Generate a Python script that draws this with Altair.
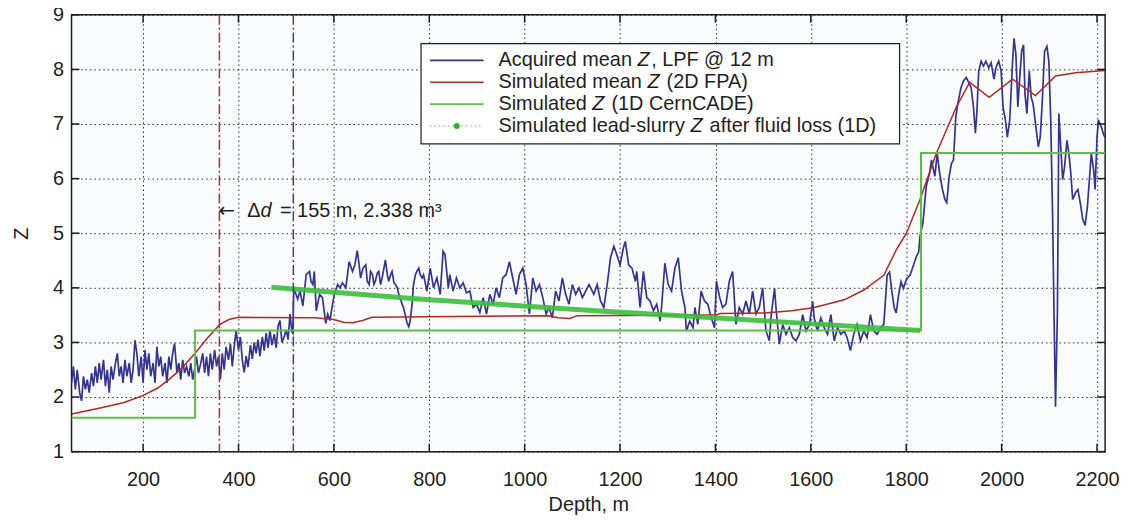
import altair as alt
import pandas as pd

# ---------------- data ----------------
# Acquired mean Z, LPF @ 12 m  -- (depth m, Z)
acq_seg_a = [(50, 2.26), (54, 2.56), (58, 2.14), (62, 2.50), (67, 2.08), (71, 1.93), (75, 2.38), (79, 2.14),
             (83, 2.32), (87, 2.08), (92, 2.44), (96, 2.20), (100, 2.56), (104, 2.26), (108, 2.62), (112, 2.32),
             (117, 2.68), (121, 2.20), (125, 2.50), (129, 2.08), (133, 2.56), (137, 2.32), (142, 2.62), (146, 2.80),
             (150, 2.38), (154, 2.56), (158, 2.26), (162, 2.68), (166, 2.38), (171, 2.62), (175, 2.26), (179, 2.50),
             (183, 3.04), (187, 2.80), (191, 2.38), (196, 2.74), (200, 2.26), (204, 2.86), (208, 2.50), (212, 2.80),
             (216, 2.38), (221, 2.62), (225, 2.26), (229, 2.92), (233, 2.56), (237, 2.74), (241, 2.38), (246, 2.62),
             (250, 2.26), (254, 2.74), (258, 2.50), (262, 2.80), (266, 2.98), (271, 2.44), (275, 2.62), (279, 2.32),
             (283, 2.68), (287, 2.44), (291, 2.56), (296, 2.38), (300, 2.62), (304, 2.32), (308, 2.50), (312, 2.74),
             (316, 2.44), (321, 2.62), (325, 2.80), (329, 2.44), (333, 2.74), (337, 2.38), (341, 2.80), (345, 2.50),
             (350, 2.86), (354, 2.56), (358, 2.74), (362, 2.32), (366, 2.80), (370, 2.50), (374, 2.92), (379, 2.68),
             (383, 2.98), (387, 2.56), (391, 2.92), (395, 3.22), (400, 2.86), (404, 3.10), (408, 2.68)]
acq_seg_b = [(412, 2.45), (416, 2.75), (420, 2.55), (425, 2.95), (429, 2.70), (433, 3.00), (437, 2.80), (441, 3.05),
             (445, 2.75), (450, 3.10), (454, 2.85), (458, 3.17), (462, 2.90), (466, 3.23), (470, 2.95), (475, 3.15),
             (479, 2.90), (483, 3.30), (487, 3.40), (491, 3.00), (496, 3.11), (500, 3.23), (504, 3.05), (508, 3.52),
             (512, 3.20), (514, 3.17), (516, 4.00), (524, 3.79), (529, 3.94), (535, 3.67), (542, 4.24), (549, 4.30),
             (552, 4.12), (556, 4.06), (559, 4.30), (563, 3.58), (570, 3.88), (576, 3.82), (583, 3.35), (587, 3.52),
             (592, 3.40), (596, 3.64), (601, 3.88), (608, 4.06), (613, 4.00), (618, 4.09), (625, 4.00), (632, 4.48),
             (639, 4.30), (644, 4.42), (649, 4.68), (653, 4.42), (656, 4.18), (661, 4.36), (667, 4.42), (670, 4.12),
             (674, 4.06), (677, 4.30), (681, 4.24), (684, 4.06), (687, 4.12), (691, 4.27), (694, 4.30), (698, 4.06),
             (701, 4.18), (705, 4.36), (708, 4.51), (712, 4.24), (715, 4.12), (719, 4.24), (722, 4.30), (726, 4.09),
             (729, 4.06), (733, 4.00), (736, 3.88), (740, 3.79), (743, 3.70), (746, 3.64), (750, 3.49), (753, 3.37),
             (757, 3.29), (760, 3.40), (764, 3.70), (767, 4.06), (771, 4.24), (774, 4.30), (778, 4.36), (781, 4.24),
             (785, 4.18)]
acq_seg_c = [(788, 4.24), (795, 3.94), (802, 4.36), (809, 4.00), (816, 4.18), (823, 3.88), (829, 4.67), (833, 4.61),
             (840, 4.00), (843, 4.24), (850, 3.94), (857, 4.18), (864, 4.00), (871, 4.09), (878, 3.91), (885, 3.94),
             (892, 3.64), (899, 3.70), (906, 3.55), (913, 3.82), (920, 3.52), (927, 3.88), (934, 3.70), (940, 4.00),
             (947, 3.82), (954, 4.18), (961, 4.24), (968, 4.48), (975, 4.18), (982, 3.88), (989, 4.24), (996, 4.36),
             (1003, 4.06), (1010, 3.52), (1017, 4.18), (1024, 3.94), (1031, 4.06), (1038, 3.82), (1045, 3.52),
             (1051, 3.64), (1058, 3.45), (1065, 3.94), (1072, 3.76), (1079, 4.18), (1086, 3.88), (1093, 3.70),
             (1100, 4.06), (1107, 3.88), (1114, 4.00), (1121, 3.82), (1128, 3.94), (1135, 4.06)]
acq_seg_d = [(1145, 3.88), (1152, 4.06), (1159, 3.76), (1166, 3.64), (1173, 4.06), (1180, 4.55), (1187, 4.76),
             (1193, 4.61), (1200, 4.42), (1207, 4.73), (1211, 4.85), (1218, 4.42), (1225, 4.36), (1232, 4.12),
             (1235, 4.30), (1242, 3.64), (1249, 4.30), (1256, 3.82), (1263, 3.76), (1270, 3.58), (1277, 3.70),
             (1284, 3.39), (1287, 3.64), (1294, 4.45), (1301, 4.06), (1308, 3.94), (1315, 4.36), (1322, 4.55),
             (1329, 3.94), (1336, 3.64), (1339, 3.21), (1346, 3.39), (1353, 3.27), (1357, 3.64), (1363, 3.33),
             (1370, 3.94), (1377, 3.76), (1384, 3.70), (1391, 3.46), (1398, 3.27), (1402, 4.12), (1409, 3.82),
             (1415, 3.64), (1422, 3.70), (1429, 4.12), (1436, 4.30), (1443, 3.33), (1450, 3.64), (1457, 3.52),
             (1464, 3.76), (1471, 3.52), (1478, 3.94), (1485, 3.52), (1492, 3.64), (1499, 4.00), (1506, 3.21),
             (1513, 3.03)]
acq_seg_e = [(1517, 3.51), (1524, 3.99), (1527, 3.63), (1534, 2.97), (1541, 3.33), (1548, 3.15), (1555, 3.27),
             (1562, 3.09), (1569, 3.03), (1576, 3.15), (1583, 3.51), (1590, 3.21), (1597, 3.33), (1604, 3.75),
             (1607, 3.45), (1614, 3.21), (1621, 3.45), (1628, 3.27), (1635, 3.15), (1642, 3.51), (1649, 3.03),
             (1656, 3.27), (1663, 3.15), (1670, 3.21), (1676, 3.09), (1683, 2.85), (1690, 3.15), (1697, 3.33),
             (1704, 3.03), (1711, 3.21), (1718, 3.09), (1725, 3.51), (1732, 3.21), (1739, 3.15), (1746, 3.27),
             (1753, 3.33), (1760, 4.23), (1765, 4.29), (1770, 3.93), (1775, 3.63), (1779, 3.54), (1784, 3.87),
             (1789, 4.11), (1794, 3.99), (1801, 4.17), (1808, 4.23), (1815, 4.41), (1822, 4.59), (1826, 4.65),
             (1829, 4.95), (1835, 5.19)]
acq_seg_f = [(1842, 5.86), (1849, 6.10), (1853, 6.34), (1860, 6.04), (1865, 6.46), (1870, 6.10), (1876, 5.80),
             (1881, 5.62), (1885, 5.56), (1890, 6.04), (1895, 6.28), (1899, 6.34), (1904, 7.13), (1908, 7.37),
             (1915, 7.67), (1920, 7.79), (1926, 7.85), (1931, 7.76), (1936, 7.67), (1941, 7.31), (1945, 6.83),
             (1948, 7.19), (1952, 7.97), (1957, 8.15), (1962, 8.06), (1967, 8.15), (1973, 8.03), (1978, 8.12),
             (1984, 7.82), (1988, 8.03), (1994, 8.15), (1999, 7.97), (2003, 7.31), (2008, 7.07), (2012, 6.76),
             (2017, 7.07), (2023, 8.15), (2026, 8.57), (2030, 8.27), (2034, 7.31), (2038, 7.85), (2042, 8.33),
             (2046, 8.45), (2049, 7.55), (2053, 7.19), (2058, 7.97), (2062, 7.49), (2066, 7.37), (2071, 7.01),
             (2077, 6.58), (2081, 6.76), (2085, 7.37), (2090, 8.33), (2095, 8.42), (2099, 8.15), (2103, 7.07),
             (2107, 5.26), (2110, 3.45), (2113, 1.82), (2117, 3.57), (2120, 7.19), (2124, 6.58), (2128, 5.98),
             (2132, 6.22), (2137, 6.70), (2141, 6.46), (2145, 6.10), (2149, 5.62), (2155, 5.74), (2160, 5.80),
             (2166, 5.50), (2170, 5.26), (2175, 5.14), (2180, 5.50), (2184, 5.98), (2188, 6.46), (2193, 6.16),
             (2196, 5.80), (2200, 6.76), (2203, 7.07), (2209, 6.95), (2214, 6.80), (2217, 6.75)]

# Simulated mean Z (2D FPA)
fpa_points = [(50, 1.69), (115, 1.81), (160, 1.90), (198, 2.02), (230, 2.16), (254, 2.32), (280, 2.52),
              (309, 2.80), (335, 3.08), (361, 3.33), (380, 3.42), (400, 3.46), (560, 3.45), (600, 3.42),
              (620, 3.37), (640, 3.36), (660, 3.40), (680, 3.46), (1050, 3.49), (1070, 3.45), (1095, 3.44),
              (1110, 3.49), (1400, 3.50), (1410, 3.53), (1503, 3.54), (1560, 3.58), (1607, 3.64), (1670, 3.78),
              (1711, 3.96), (1753, 4.23), (1780, 4.71), (1801, 5.01), (1829, 5.62), (1863, 6.46), (1905, 7.31),
              (1933, 7.76), (1974, 7.49), (2023, 7.82), (2071, 7.52), (2113, 7.88), (2155, 7.94), (2217, 7.98)]

# Simulated Z (1D CernCADE) -- step levels (value holds until next depth)
cern_points = [(50, 1.62), (309, 3.22), (1831, 6.47), (2217, 6.47)]

# Simulated lead-slurry Z after fluid loss (1D)
slurry_points = [(469, 4.01), (785, 3.79), (1149, 3.58), (1513, 3.39), (1829, 3.22)]

# vertical dash-dot markers (depth, m) : red, blue  -> delta d = 155 m
marker_red = 360
marker_blue = 515

x_ticks = [200, 400, 600, 800, 1000, 1200, 1400, 1600, 1800, 2000, 2200]
y_ticks = [1, 2, 3, 4, 5, 6, 7, 8, 9]

legend_rows = [("Acquired mean ", "Z", ", LPF @ 12 m"),
               ("Simulated mean ", "Z", " (2D FPA)"),
               ("Simulated ", "Z", " (1D CernCADE)"),
               ("Simulated lead-slurry ", "Z", " after fluid loss (1D)")]
annot_text = ("\u0394", "d", " = 155 m, 2.338 m\u00b3")
annot_z = 5.4

# ---------------- layout / style ----------------
W, H = 1041, 440
XMIN, XMAX = 50, 2217
YMIN, YMAX = 1, 9
FONT = "Liberation Sans"
FS = 20
INK = "#1e1e1e"
C_BLUE = "#34348f"
C_RED = "#b02a22"
C_GREEN = "#5cbf4a"
C_SLURRY = "#3cbf3c"

# Arial/Liberation Sans advance widths (1/1000 em) for placing text pieces
AW = {' ': 278, 'A': 667, 'c': 500, 'q': 556, 'u': 556, 'i': 222, 'r': 333, 'e': 556, 'd': 556, 'm': 833,
      'a': 556, 'n': 556, 'Z': 611, ',': 278, 'L': 556, 'P': 667, 'F': 611, '@': 1015, 'S': 667, 'l': 222,
      't': 278, '(': 333, ')': 333, 'D': 722, 'C': 722, 'E': 667, '-': 333, 's': 500, 'y': 500, 'f': 278,
      'o': 556, '\u0394': 668, '=': 584, '.': 278, '\u00b3': 333}


def tw(s):
    return sum(AW.get(ch, 556) for ch in s) * FS / 1000.0


def xpix(d):
    return (d - XMIN) / (XMAX - XMIN) * W


def ypix(z):
    return (YMAX - z) / (YMAX - YMIN) * H


def df_pts(points):
    return pd.DataFrame({"depth": [p[0] for p in points], "z": [p[1] for p in points]})


acq_all = acq_seg_a + acq_seg_b + acq_seg_c + acq_seg_d + acq_seg_e + acq_seg_f
df_acq = df_pts(acq_all)
df_fpa = df_pts(fpa_points)
df_cern = df_pts(cern_points)
df_slurry = df_pts(slurry_points)

xaxis = alt.Axis(values=x_ticks, grid=True, gridDash=[1.5, 3], gridColor="#2a2a2a", gridWidth=1,
                 ticks=False, domain=False, labelFont=FONT, labelFontSize=FS, labelColor=INK,
                 labelPadding=18, format="d", title="Depth, m", titleFont=FONT, titleFontSize=FS,
                 titleFontWeight="normal", titleColor=INK, titleX=W / 2, titleY=53,
                 titleAlign="center", titleBaseline="middle", labelFlush=False)
yaxis = alt.Axis(values=y_ticks, grid=True, gridDash=[1.5, 3], gridColor="#2a2a2a", gridWidth=1,
                 ticks=False, domain=False, labelFont=FONT, labelFontSize=FS, labelColor=INK,
                 labelPadding=8, format="d", title="Z", titleFont=FONT, titleFontSize=FS,
                 titleFontWeight="normal", titleColor=INK, titleX=-50, titleY=H / 2, titleAngle=270,
                 titleAlign="center", titleBaseline="middle", labelFlush=False)

xs = alt.Scale(domain=[XMIN, XMAX], nice=False, zero=False)
ys = alt.Scale(domain=[YMIN, YMAX], nice=False, zero=False)
X = alt.X("depth:Q", scale=xs, axis=xaxis)
Y = alt.Y("z:Q", scale=ys, axis=yaxis)

layers = []

acq = alt.Chart(df_acq).mark_line(color=C_BLUE, strokeWidth=1.7, clip=True).encode(x=X, y=Y)
fpa = alt.Chart(df_fpa).mark_line(color=C_RED, strokeWidth=1.5, clip=True).encode(x=X, y=Y)
cern = alt.Chart(df_cern).mark_line(color=C_GREEN, strokeWidth=2, interpolate="step-after",
                                    clip=True).encode(x=X, y=Y)
slurry = alt.Chart(df_slurry).mark_line(color=C_SLURRY, strokeWidth=5, opacity=0.9,
                                        clip=True).encode(x=X, y=Y)

df_mark = pd.DataFrame({"depth": [marker_red, marker_blue], "which": ["red", "blue"]})
vlines = alt.Chart(df_mark).mark_rule(strokeWidth=1.5, strokeDash=[10, 3, 2, 3]).encode(
    x=X,
    color=alt.Color("which:N", scale=alt.Scale(domain=["red", "blue"], range=["#a8322d", "#3c3c94"]),
                    legend=None))

layers += [acq, fpa, cern, slurry, vlines]

# inward tick marks on all four sides
df_xt = pd.DataFrame({"depth": x_ticks})
df_yt = pd.DataFrame({"z": y_ticks})
tk = dict(color=INK, strokeWidth=1.5)
layers.append(alt.Chart(df_xt).mark_rule(**tk).encode(x=X, y=alt.value(H), y2=alt.value(H - 8)))
layers.append(alt.Chart(df_xt).mark_rule(**tk).encode(x=X, y=alt.value(0), y2=alt.value(8)))
layers.append(alt.Chart(df_yt).mark_rule(**tk).encode(y=Y, x=alt.value(0), x2=alt.value(8)))
layers.append(alt.Chart(df_yt).mark_rule(**tk).encode(y=Y, x=alt.value(W), x2=alt.value(W - 8)))

one = pd.DataFrame({"k": [0]})


def txt(s, x, y, italic=False, font=FONT):
    return alt.Chart(one).mark_text(align="left", baseline="middle", font=font, fontSize=FS,
                                    fontStyle="italic" if italic else "normal", color=INK).encode(
        x=alt.value(x), y=alt.value(y), text=alt.value(s))


def pieces(parts, x0, y, italic_gap=1.5):
    out = []
    x = x0
    for j, p in enumerate(parts):
        lead = len(p) - len(p.lstrip(" "))
        xs_ = x + tw(" " * lead)
        out.append(txt(p.strip(" "), xs_, y, italic=(j == 1)))
        x += tw(p)
        if j == 1:
            x += italic_gap
    return out


# annotation: arrow at the red marker, text to its right
ax = xpix(marker_red)
ay = ypix(annot_z)
layers.append(txt("\u2190", ax - 1, ay, font="DejaVu Sans"))
layers += pieces(list(annot_text), ax + 28, ay, italic_gap=3)

# legend box
LB_L, LB_R, LB_T, LB_B = 352, 834, 29, 130
layers.append(alt.Chart(one).mark_rect(fill="white", stroke=INK, strokeWidth=1.2).encode(
    x=alt.value(LB_L), x2=alt.value(LB_R), y=alt.value(LB_T), y2=alt.value(LB_B)))
row_y = [46, 68, 90, 112]
SX0, SX1 = 361, 415
TX0 = 430
layers.append(alt.Chart(one).mark_rule(color=C_BLUE, strokeWidth=1.7).encode(
    x=alt.value(SX0), x2=alt.value(SX1), y=alt.value(row_y[0])))
layers.append(alt.Chart(one).mark_rule(color=C_RED, strokeWidth=1.5).encode(
    x=alt.value(SX0), x2=alt.value(SX1), y=alt.value(row_y[1])))
layers.append(alt.Chart(one).mark_rule(color=C_GREEN, strokeWidth=2).encode(
    x=alt.value(SX0), x2=alt.value(SX1), y=alt.value(row_y[2])))
layers.append(alt.Chart(one).mark_rule(color="#8fd483", strokeWidth=1.5, strokeDash=[1.5, 3]).encode(
    x=alt.value(SX0), x2=alt.value(SX1), y=alt.value(row_y[3])))
layers.append(alt.Chart(one).mark_point(filled=True, color="#2fae2f", size=35, opacity=1).encode(
    x=alt.value((SX0 + SX1) / 2), y=alt.value(row_y[3])))
for r, yy in zip(legend_rows, row_y):
    layers += pieces(list(r), TX0, yy)

chart = alt.layer(*layers).properties(
    width=W, height=H,
    autosize=alt.AutoSizeParams(type="none"),
    padding={"left": 64, "top": 5, "right": 16, "bottom": 62},
    background="white",
).configure_view(stroke=INK, strokeWidth=1.5, fill="#fafbfd")

chart.save("out.html", embed_options={"renderer": "svg", "actions": False})
